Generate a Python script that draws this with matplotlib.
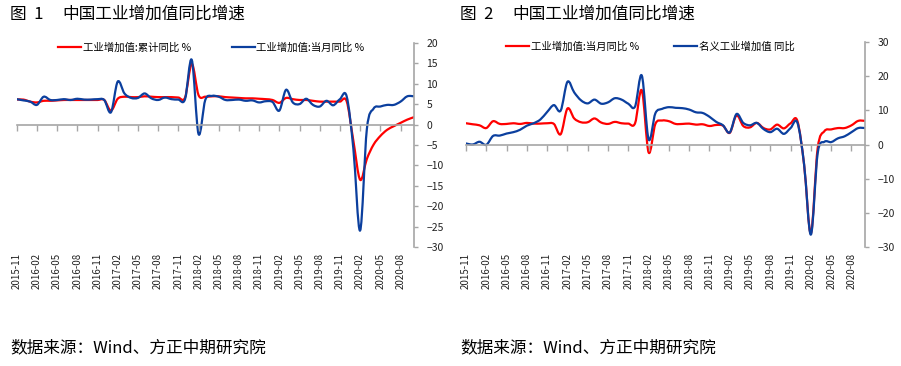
import numpy as np
import pandas as pd
import matplotlib
matplotlib.use('Agg')
import matplotlib.pyplot as plt
from matplotlib.path import Path
from matplotlib.patches import PathPatch
from matplotlib.lines import Line2D

plt.rcParams['font.family'] = ['Noto Sans CJK SC', 'DejaVu Sans']

# 月份：2015-11 至 2020-10
months = pd.date_range('2015-11-01', periods=60, freq='MS').strftime('%Y-%m').tolist()

# 工业增加值:当月同比 %
iva_month = [6.2, 5.9, 5.6, 4.8, 6.8, 6.0, 6.0, 6.2, 6.0, 6.3, 6.1, 6.1,
             6.2, 6.0, 3.0, 10.5, 7.6, 6.5, 6.5, 7.6, 6.4, 6.0, 6.6, 6.2,
             6.1, 6.2, 15.8, -2.3, 6.0, 7.0, 6.8, 6.0, 6.0, 6.1, 5.8, 5.9,
             5.4, 5.7, 5.5, 3.4, 8.5, 5.4, 5.0, 6.3, 4.8, 4.4, 5.8, 4.7,
             6.2, 6.9, -6.0, -25.9, -1.1, 3.9, 4.4, 4.8, 4.8, 5.6, 6.9, 6.9]

# 工业增加值:累计同比 %
iva_cum = [6.1, 6.1, 5.6, 5.4, 5.8, 5.8, 5.9, 6.0, 6.0, 6.0, 6.0, 6.0,
           6.0, 6.0, 3.4, 6.3, 6.8, 6.7, 6.7, 6.9, 6.8, 6.7, 6.7, 6.7,
           6.6, 6.6, 14.8, 7.2, 6.8, 6.9, 6.9, 6.7, 6.6, 6.5, 6.4, 6.4,
           6.3, 6.2, 6.0, 5.3, 6.5, 6.2, 6.0, 6.0, 5.8, 5.6, 5.6, 5.6,
           5.6, 5.7, -4.0, -13.5, -8.4, -4.9, -2.8, -1.3, -0.4, 0.4, 1.2, 1.8]

# 名义工业增加值 同比
iva_nominal = [0.3, 0.0, 0.8, -0.1, 2.5, 2.6, 3.2, 3.6, 4.3, 5.5, 6.2, 7.3,
               9.5, 11.5, 9.9, 18.3, 15.2, 12.9, 12.0, 13.1, 11.9, 12.3, 13.5, 13.1,
               11.9, 11.1, 20.1, 1.5, 9.1, 10.4, 10.9, 10.7, 10.6, 10.2, 9.4, 9.2,
               8.1, 6.6, 5.6, 3.5, 8.9, 6.3, 5.6, 6.3, 4.5, 3.6, 4.6, 3.1,
               4.8, 6.4, -5.9, -26.3, -2.6, 0.8, 0.7, 1.8, 2.4, 3.6, 4.8, 4.8]

RED = '#FF0000'
BLUE = '#0B3F9E'
GRAY = '#A6A6A6'


def smooth_path(xs, ys):
    # 类似 Excel 平滑线的贝塞尔曲线
    pts = np.column_stack([xs, ys]).astype(float)
    verts = [pts[0]]
    codes = [Path.MOVETO]
    n = len(pts)
    for i in range(n - 1):
        p0 = pts[i - 1] if i > 0 else pts[i]
        p1 = pts[i]
        p2 = pts[i + 1]
        p3 = pts[i + 2] if i + 2 < n else p2
        verts += [p1 + (p2 - p0) / 6, p2 - (p3 - p1) / 6, p2]
        codes += [Path.CURVE4] * 3
    return Path(verts, codes)


def draw_panel(ax, series, colors, labels, ylim, ystep, leg_x, colspace):
    x = np.arange(len(months))
    for ys, c in zip(series, colors):
        ax.add_patch(PathPatch(smooth_path(x, ys), facecolor='none',
                               edgecolor=c, lw=1.6, capstyle='round',
                               joinstyle='round'))
    ax.set_xlim(0, len(months) - 1)
    ax.set_ylim(*ylim)

    # 右侧 y 轴
    for s in ['left', 'top']:
        ax.spines[s].set_visible(False)
    ax.spines['right'].set_color(GRAY)
    ax.spines['right'].set_linewidth(1.2)
    ax.yaxis.tick_right()
    ax.set_yticks(np.arange(ylim[0], ylim[1] + 0.1, ystep))
    ax.tick_params(axis='y', direction='out', length=3, width=1, color=GRAY,
                   labelsize=7.5, pad=6, labelcolor='#222222')

    # x 轴线画在 0 处，只留刻度线
    ax.spines['bottom'].set_position(('data', 0))
    ax.spines['bottom'].set_color(GRAY)
    ax.spines['bottom'].set_linewidth(1.2)
    ticks = x[::3]
    ax.set_xticks(ticks)
    ax.tick_params(axis='x', direction='out', length=4, width=1, color=GRAY,
                   labelbottom=False)

    # 日期标签放在底部
    sec = ax.secondary_xaxis('bottom')
    sec.set_xticks(ticks)
    sec.set_xticklabels([months[i] for i in ticks], rotation=90)
    sec.tick_params(length=0, labelsize=7, pad=4, labelcolor='#222222')
    sec.spines['bottom'].set_visible(False)

    handles = [Line2D([], [], color=c, lw=1.6) for c in colors]
    ax.legend(handles, labels, loc='center', bbox_to_anchor=(leg_x, 0.975),
              ncol=2, frameon=False, fontsize=7.5, handlelength=2.2,
              handletextpad=0.15, columnspacing=colspace)


fig = plt.figure(figsize=(9.01, 3.66), dpi=100)
ax1 = fig.add_axes([16.7 / 901, 118.7 / 366, 397.3 / 901, 204.6 / 366])
ax2 = fig.add_axes([466 / 901, 118.7 / 366, 399 / 901, 205.6 / 366])

draw_panel(ax1, [iva_cum, iva_month], [RED, BLUE],
           ['工业增加值:累计同比 %', '工业增加值:当月同比 %'],
           (-30, 20), 5, 0.49, 3.9)
draw_panel(ax2, [iva_month, iva_nominal], [RED, BLUE],
           ['工业增加值:当月同比 %', '名义工业增加值 同比'],
           (-30, 30), 10, 0.462, 3.4)

# 标题
for x0, num in [(10, '1'), (460, '2')]:
    fig.text(x0 / 901, 1 - 14 / 366, '图  ' + num, fontsize=12,
             va='center', ha='left')
    fig.text((x0 + 52) / 901, 1 - 14 / 366, '中国工业增加值同比增速',
             fontsize=12, va='center', ha='left')
    fig.text(x0 / 901, 18 / 366, '数据来源：Wind、方正中期研究院',
             fontsize=12, style='italic', va='center', ha='left')

fig.savefig('out.png', dpi=100)
